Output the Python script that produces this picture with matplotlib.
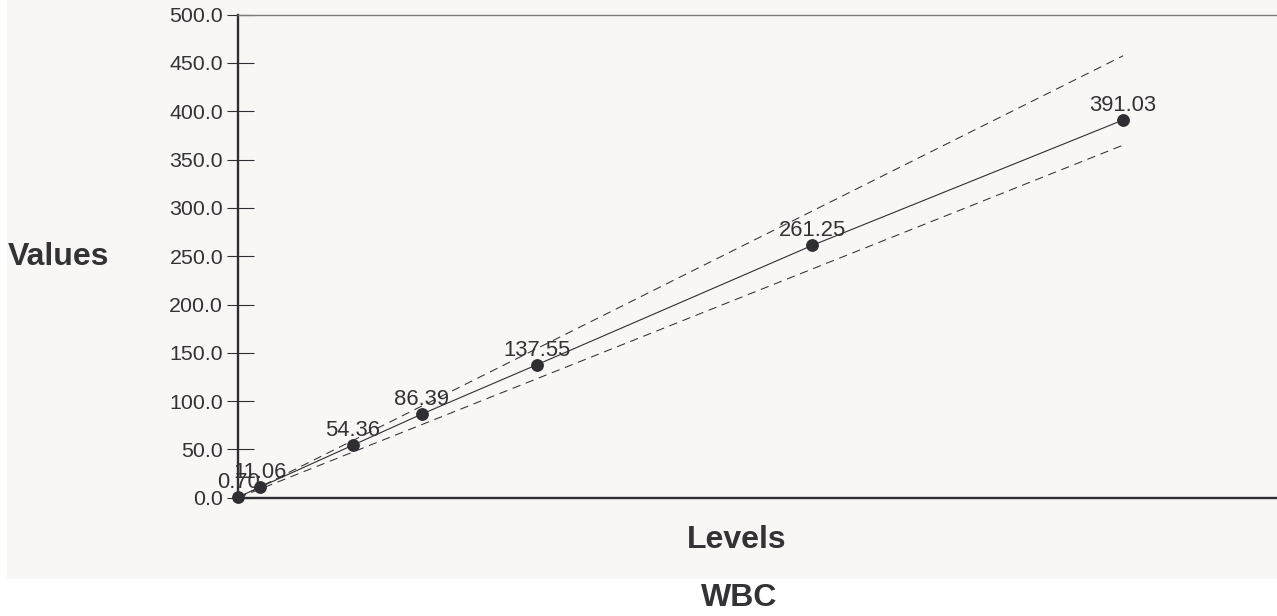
import matplotlib
matplotlib.use("Agg")
import matplotlib.pyplot as plt
from matplotlib.patches import Rectangle
from matplotlib.ticker import MultipleLocator, FormatStrFormatter

# ---- data ----
levels = [0.0, 9.6, 50.0, 80.0, 130.3, 250.7, 386.4]
values = [0.70, 11.06, 54.36, 86.39, 137.55, 261.25, 391.03]
value_labels = ["0.70", "11.06", "54.36", "86.39", "137.55", "261.25", "391.03"]
limit_levels = [0.0, 386.4]
upper_limit = [0.0, 457.5]
lower_limit = [0.0, 365.0]
y_ticks = [0, 50, 100, 150, 200, 250, 300, 350, 400, 450, 500]
x_label = "Levels"
y_label = "Values"
title_text = "WBC"

W, H, DPI = 1277, 616, 100
TXT = "#333336"
BG = "#f8f7f6"
DARK = "#2f2f33"

plt.rcParams['font.family'] = ['Liberation Sans', 'DejaVu Sans']

fig = plt.figure(figsize=(W / DPI, H / DPI), dpi=DPI, facecolor="white")
# light gray panel
fig.patches.append(Rectangle((7 / W, (H - 578.6) / H), 1 - 7 / W, 578.6 / H,
                             transform=fig.transFigure, facecolor=BG,
                             edgecolor="none", zorder=-10))

left, right = 238.3 / W, 1.0
bottom, top = (H - 497.7) / H, (H - 14.7) / H
ax = fig.add_axes([left, bottom, right - left, top - bottom])
ax.set_facecolor("none")
ax.set_zorder(1)

ax.set_ylim(0, 500)
ax.set_xlim(0, (W - 238.3) / 2.29)

# limits (dashed)
ax.plot(limit_levels, upper_limit, color=DARK, lw=0.75, ls=(0, (8, 5.5)), zorder=2)
ax.plot(limit_levels, lower_limit, color=DARK, lw=0.75, ls=(0, (8, 5.5)), zorder=2)
# measured line
ax.plot(levels, values, color=DARK, lw=0.8, zorder=3)
ax.plot(levels, values, ls="none", marker="o", ms=8.2, color=DARK,
        zorder=4, clip_on=False)

for x, y, t in zip(levels, values, value_labels):
    ax.annotate(t, (x, y), xytext=(0, 3), textcoords="offset points",
                ha="center", va="bottom", fontsize=15.8, color=TXT,
                zorder=5, annotation_clip=False)

# spines
ax.spines["right"].set_visible(False)
ax.spines["left"].set_color(DARK)
ax.spines["left"].set_linewidth(1.7)
ax.spines["bottom"].set_color(DARK)
ax.spines["bottom"].set_linewidth(1.7)
ax.spines["top"].set_color("#7a7a7a")
ax.spines["top"].set_linewidth(1.0)

# ticks
ax.set_xticks([])
ax.set_yticks(y_ticks)
ax.yaxis.set_major_formatter(FormatStrFormatter("%.1f"))
ax.tick_params(axis="y", which="major", direction="out", length=8,
               width=0.8, color=DARK, labelsize=15.4, labelcolor=TXT, pad=2.9)
ax.yaxis.set_minor_locator(MultipleLocator(50))
ax.yaxis.remove_overlapping_locs = False
ax.tick_params(axis="y", which="minor", direction="in", length=11.5,
               width=0.8, color=DARK)

# labels
fig.text(59 / W, 1 - 257 / H, y_label, ha="center", va="center",
         fontsize=23, fontweight="bold", color=TXT)
fig.text(737 / W, 1 - 540 / H, x_label, ha="center", va="center",
         fontsize=23, fontweight="bold", color=TXT)
fig.text(739 / W, 1 - 598 / H, title_text, ha="center", va="center",
         fontsize=23, fontweight="bold", color=TXT)

fig.savefig("out.png", dpi=DPI, facecolor="white")
